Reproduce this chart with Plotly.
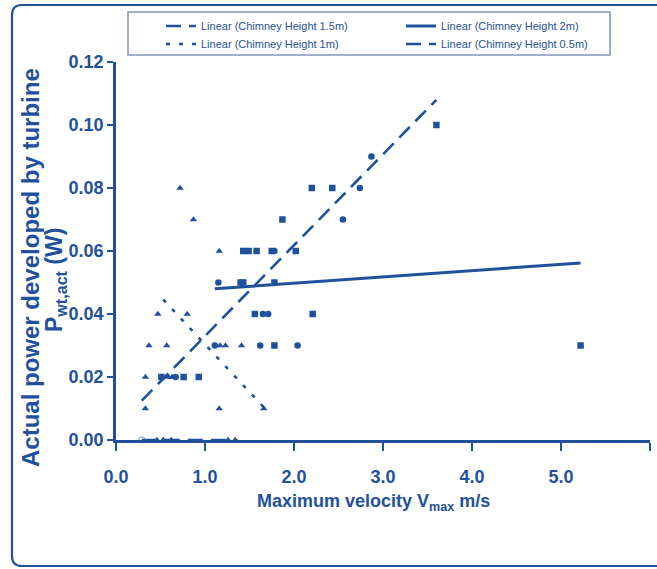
import plotly.graph_objects as go

BLUE = "#1F519C"
FONT = "Liberation Sans, Arial, sans-serif"

# ---- scatter data ----
sq_x = [0.51, 0.76, 0.93, 1.40, 1.43, 1.43, 1.49, 1.58, 1.56, 1.75, 1.78, 1.78, 2.02, 1.87, 2.20, 2.43, 3.60, 2.21, 5.22]
sq_y = [0.02, 0.02, 0.02, 0.05, 0.05, 0.06, 0.06, 0.06, 0.04, 0.06, 0.05, 0.03, 0.06, 0.07, 0.08, 0.08, 0.10, 0.04, 0.03]
ci_x = [1.15, 1.11, 1.62, 2.04, 1.65, 1.71, 1.78, 2.55, 2.74, 2.87, 0.67]
ci_y = [0.05, 0.03, 0.03, 0.03, 0.04, 0.04, 0.06, 0.07, 0.08, 0.09, 0.02]
tr_x = [0.72, 0.87, 1.16, 0.47, 0.80, 0.37, 0.57, 1.17, 1.23, 1.41, 0.33, 0.59, 0.63, 0.33, 1.16, 1.66]
tr_y = [0.08, 0.07, 0.06, 0.04, 0.04, 0.03, 0.03, 0.03, 0.03, 0.03, 0.02, 0.02, 0.02, 0.01, 0.01, 0.01]
zero_x = [0.46, 0.53, 0.62, 1.26, 1.34]
zero_y = [0.0, 0.0, 0.0, 0.0, 0.0]
open_x = [0.29]
open_y = [0.0]

# ---- linear trend lines (end points) ----
trend_15_x = [0.29, 3.60]
trend_15_y = [0.0125, 0.108]
trend_2_x = [1.11, 5.22]
trend_2_y = [0.048, 0.0562]
trend_1_x = [0.53, 1.66]
trend_1_y = [0.0446, 0.0104]
trend_05_x = [0.29, 1.34]
trend_05_y = [0.0, 0.0]

legend_names = ["Linear (Chimney Height 1.5m)", "Linear (Chimney Height 2m)",
                "Linear (Chimney Height 1m)", "Linear (Chimney Height 0.5m)"]

x_ticks = [0, 1, 2, 3, 4, 5, 6]
y_ticks = [0.00, 0.02, 0.04, 0.06, 0.08, 0.10, 0.12]

fig = go.Figure()

def pts(x, y, symbol, size=6, color=BLUE):
    fig.add_trace(go.Scatter(x=x, y=y, mode="markers", showlegend=False, cliponaxis=False,
                             marker=dict(symbol=symbol, size=size, color=color,
                                         line=dict(width=0 if "open" not in symbol else 1.2, color=color))))

pts(sq_x, sq_y, "square", 6.5)
pts(ci_x, ci_y, "circle", 6.5)
pts(tr_x, tr_y, "triangle-up", 6.5)
pts(zero_x, zero_y, "triangle-up", 6.5)
pts(open_x, open_y, "circle-open", size=6, color="#8a9cbc")

def trend(x, y, name, dash, legend, width=2.6):
    fig.add_trace(go.Scatter(x=x, y=y, mode="lines", name=name, cliponaxis=False, legend=legend,
                             line=dict(color=BLUE, width=width, dash=dash)))

trend(trend_15_x, trend_15_y, legend_names[0], "15px,8px", "legend")
trend(trend_2_x, trend_2_y, legend_names[1], "solid", "legend", 3)
trend(trend_1_x, trend_1_y, legend_names[2], "4px,9px", "legend2")
trend(trend_05_x, trend_05_y, legend_names[3], "15px,8px", "legend2")

W, H = 657, 569
L, R, T, B = 116, 7, 62, 129
pw, ph = W - L - R, H - T - B

def px(x):
    return (x - L) / pw

def py(y):
    return (H - B - y) / ph

# outer rounded frame
r = 10
x0, x1, y0, y1 = 12, 668, 5, 566
path = (f"M {px(x0 + r)},{py(y0)} L {px(x1)},{py(y0)} L {px(x1)},{py(y1)} "
        f"L {px(x0 + r)},{py(y1)} Q {px(x0)},{py(y1)} {px(x0)},{py(y1 - r)} "
        f"L {px(x0)},{py(y0 + r)} Q {px(x0)},{py(y0)} {px(x0 + r)},{py(y0)} Z")
shapes = [
    dict(type="path", xref="paper", yref="paper", path=path,
         line=dict(color=BLUE, width=2.2), layer="below"),
    dict(type="rect", xref="paper", yref="paper", x0=px(128), x1=px(610), y0=py(12), y1=py(55),
         line=dict(color="#7f97c2", width=1.5), layer="below"),
]

annotations = [
    dict(text="Actual power developed by turbine", xref="paper", yref="paper",
         x=px(30), y=py(268), textangle=-90, showarrow=False, xanchor="center", yanchor="middle",
         font=dict(family=FONT, size=24, color=BLUE, weight="bold")),
    dict(text="P<sub>wt,act</sub> (W)", xref="paper", yref="paper",
         x=px(55), y=py(280), textangle=-90, showarrow=False, xanchor="center", yanchor="middle",
         font=dict(family=FONT, size=23, color=BLUE, weight="bold")),
    dict(text="Maximum velocity V<sub>max</sub> m/s", xref="paper", yref="paper",
         x=px(373), y=py(502), showarrow=False, xanchor="center", yanchor="middle",
         font=dict(family=FONT, size=18, color=BLUE, weight="bold")),
]

axis_common = dict(showgrid=False, zeroline=False, showline=True, linecolor=BLUE, linewidth=2.5,
                   ticks="outside", tickcolor=BLUE, tickwidth=2,
                   tickfont=dict(family=FONT, size=18, color=BLUE, weight="bold"))

leg_common = dict(orientation="h", xanchor="left", yanchor="middle",
                  entrywidth=195, entrywidthmode="pixels", bgcolor="rgba(0,0,0,0)", borderwidth=0,
                  font=dict(family=FONT, size=11, color=BLUE), itemwidth=30)

fig.update_layout(
    width=W, height=H,
    margin=dict(l=L, r=R, t=T, b=B),
    paper_bgcolor="white", plot_bgcolor="white",
    xaxis=dict(range=[0, 6], tickvals=x_ticks, ticktext=[f"{v:.1f}" for v in x_ticks],
               ticklen=8, ticklabelstandoff=11, **axis_common),
    yaxis=dict(range=[0, 0.12], tickvals=y_ticks, ticktext=[f"{v:.2f}" for v in y_ticks],
               ticklen=6, **axis_common),
    showlegend=True,
    legend=dict(x=px(161), y=py(26), **leg_common),
    legend2=dict(x=px(161), y=py(44), **leg_common),
    shapes=shapes, annotations=annotations,
)

fig.write_html("out.html", config={"displayModeBar": False},
               post_script="document.body.style.margin='0px';document.body.style.overflow='hidden';")
